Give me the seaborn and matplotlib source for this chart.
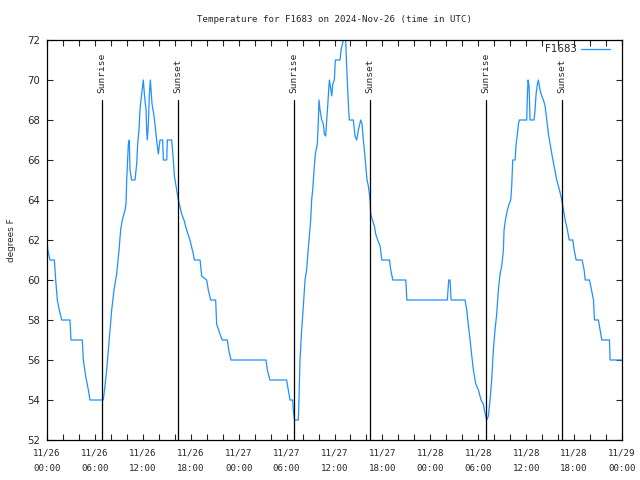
import pandas as pd
import matplotlib
matplotlib.use("Agg")
import matplotlib.pyplot as plt
import matplotlib.dates as mdates
import seaborn as sns

# Readings: hours since 2024-11-26 00:00 UTC and temperature (deg F)
reading_hours = [
    0.0, 0.1, 0.38, 0.92, 1.09, 1.29, 1.54, 1.84, 2.88, 3.0, 4.42, 4.55, 4.84, 5.18, 5.38, 7.05,
    7.26, 7.47, 7.68, 7.89, 8.1, 8.39, 8.72, 9.02, 9.22, 9.43, 9.77, 9.89, 9.98, 10.19, 10.31,
    10.39, 10.6, 11.02, 11.23, 11.35, 11.52, 11.64, 11.85, 12.06, 12.19, 12.4, 12.48, 12.56,
    12.69, 12.81, 12.94, 13.15, 13.4, 13.73, 13.94, 14.15, 14.48, 14.57, 14.99, 15.07, 15.61,
    15.82, 15.95, 16.24, 16.45, 16.86, 17.15, 17.49, 17.9, 18.32, 18.45, 19.16, 19.37, 19.99,
    20.2, 20.49, 21.12, 21.24, 21.66, 21.95, 22.58, 22.75, 23.04, 27.42, 27.59, 27.92, 30.0,
    30.22, 30.43, 30.76, 30.84, 31.0, 31.47, 31.55, 31.68, 31.89, 32.1, 32.31, 32.51, 32.64,
    32.81, 33.02, 33.14, 33.27, 33.44, 33.6, 33.85, 33.98, 34.06, 34.19, 34.4, 34.6, 34.73,
    34.9, 35.02, 35.15, 35.27, 35.36, 35.48, 35.65, 35.78, 35.98, 36.11, 36.69, 36.82, 37.11,
    37.4, 37.52, 37.65, 37.77, 37.86, 38.36, 38.57, 38.78, 38.99, 39.28, 39.45, 39.61, 39.74,
    39.91, 40.07, 40.24, 40.45, 40.53, 40.74, 40.99, 41.16, 41.41, 41.71, 41.92, 42.88, 43.05,
    43.3, 44.93, 45.06, 50.13, 50.3, 50.47, 50.6, 52.35, 52.56, 52.77, 52.98, 53.19, 53.39,
    53.69, 54.02, 54.35, 54.64, 54.76, 55.06, 55.27, 55.48, 55.68, 55.89, 56.1, 56.31, 56.52,
    56.73, 56.94, 57.15, 57.23, 57.4, 57.65, 57.86, 58.07, 58.19, 58.32, 58.61, 58.74, 58.9,
    59.03, 59.15, 60.07, 60.15, 60.24, 60.36, 60.49, 60.99, 61.11, 61.24, 61.41, 61.53, 61.74,
    61.95, 62.16, 62.37, 62.58, 62.79, 63.0, 63.21, 63.5, 63.83, 64.17, 64.46, 64.67, 64.88,
    65.17, 65.38, 65.84, 66.01, 66.26, 67.01, 67.26, 67.39, 67.93, 68.18, 68.43, 68.55, 69.05,
    69.26, 69.47, 70.43, 70.51, 72.0,
]
reading_temps = [
    62, 61.5, 61, 61, 60, 59, 58.5, 58, 58, 57, 57, 56, 55.2, 54.5, 54, 54,
    54.7, 55.5, 56.5, 57.5, 58.5, 59.5, 60.3, 61.5, 62.5, 63, 63.5, 63.8, 65, 66.8, 67,
    65.5, 65, 65, 65.8, 66.8, 67.5, 68.5, 69.3, 70, 69.3, 68.5, 67.5, 67,
    67.8, 69.2, 70, 68.8, 68.2, 67, 66.3, 67, 67, 66, 66, 67, 67,
    66, 65.2, 64.5, 64, 63.3, 63, 62.5, 62, 61.3, 61, 61, 60.2, 60,
    59.5, 59, 59, 57.8, 57.3, 57, 57, 56.5, 56, 56, 55.5, 55, 55,
    54.5, 54, 54, 53.5, 53, 53, 54, 56, 57.5, 58.7, 60, 60.5, 61.2,
    62, 63, 64, 64.5, 65.5, 66.3, 66.8, 68, 69, 68.5, 68, 67.8, 67.3,
    67.2, 68, 68.7, 69.5, 70, 69.7, 69.2, 69.8, 70, 71, 71, 71.5, 72,
    72, 70.7, 69.5, 68.5, 68, 68, 67.2, 67, 67.5, 68, 67.8, 67, 66.5,
    65.7, 65, 64.7, 64, 63.3, 63, 62.7, 62.3, 62, 61.7, 61, 61, 60.5,
    60, 60, 59, 59, 60, 60, 59, 59, 58.5, 57.7, 57, 56.2, 55.5,
    54.8, 54.5, 54, 53.8, 53.5, 53, 53.2, 54, 55, 56.5, 57.5, 58.3, 59.5,
    60.3, 60.7, 61.5, 62.5, 63, 63.5, 63.8, 64, 64.7, 66, 66, 66.8, 67.3,
    67.8, 68, 68, 69.2, 70, 69.7, 68, 68, 68.5, 69.3, 69.8, 70, 69.5,
    69.2, 69, 68.7, 68, 67.3, 66.8, 66.3, 65.7, 65, 64.5, 64, 63.5, 63,
    62.5, 62, 62, 61.5, 61, 61, 60.5, 60, 60, 59.5, 59, 58, 58,
    57.5, 57, 57, 56, 56,
]

sunrise_times = ["2024-11-26 06:56", "2024-11-27 06:56", "2024-11-28 07:00"]
sunset_times = ["2024-11-26 16:27", "2024-11-27 16:29", "2024-11-28 16:32"]

station = "F1683"
start = pd.Timestamp("2024-11-26 00:00")
end = pd.Timestamp("2024-11-29 00:00")

df = pd.DataFrame({
    "time": start + pd.to_timedelta(reading_hours, unit="h"),
    "temp": reading_temps,
})

sns.set_style("ticks")
plt.rcParams["font.family"] = ["DejaVu Sans Mono"]
plt.rcParams["font.size"] = 6.6

fig = plt.figure(figsize=(6.4, 4.8), dpi=100)
ax = fig.add_axes([47 / 640, 40 / 480, 575 / 640, 400 / 480])

sns.lineplot(data=df, x="time", y="temp", ax=ax, color="#1e90ff",
             linewidth=0.9, label=station)

# sunrise / sunset markers
for label, times in [("Sunrise", sunrise_times), ("Sunset", sunset_times)]:
    for t in pd.to_datetime(times):
        ax.axvline(t, ymin=0, ymax=0.85, color="black", linewidth=0.9)
        ax.text(t, 69.35, label, rotation=90, ha="center", va="bottom", fontsize=6.8)

ax.set_xlim(start, end)
ax.set_ylim(52, 72)
ax.set_yticks(range(52, 73, 2))
ax.xaxis.set_major_locator(mdates.HourLocator(byhour=range(0, 24, 6)))
ax.xaxis.set_minor_locator(mdates.HourLocator(byhour=range(0, 24, 2)))
ax.xaxis.set_major_formatter(mdates.DateFormatter("%m/%d\n%H:%M"))
ax.tick_params(which="both", direction="in", top=True, right=True,
               length=4.5, width=0.8)
ax.tick_params(axis="x", which="major", pad=6, labelsize=6.6)
ax.tick_params(axis="y", pad=5, labelsize=7.3)
for lbl in ax.get_xticklabels():
    lbl.set_linespacing(1.9)
for lbl in ax.get_yticklabels():
    lbl.set_fontfamily("DejaVu Sans")
for side in ax.spines.values():
    side.set_linewidth(0.9)
    side.set_color("black")

ax.set_xlabel("")
ax.set_ylabel("degrees F", fontsize=6.4, labelpad=8, fontfamily="DejaVu Sans")
ax.set_title(f"Temperature for {station} on 2024-Nov-26 (time in UTC)",
             fontsize=6.6, pad=13)

leg = ax.legend(loc="upper right", bbox_to_anchor=(0.986, 1.0), frameon=False,
                markerfirst=False, handlelength=2.8, handletextpad=0.4,
                borderaxespad=0, prop={"family": "DejaVu Sans", "size": 7.4})

fig.savefig("out.png", dpi=100)
